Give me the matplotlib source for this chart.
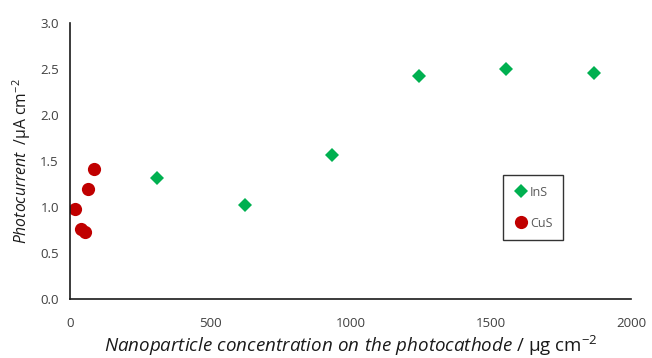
import matplotlib.pyplot as plt

# InS nanoparticle series
ins_conc = [310, 624, 934, 1244, 1554, 1868]
ins_current = [1.31, 1.02, 1.57, 2.42, 2.50, 2.46]

# CuS nanoparticle series
cus_conc = [18, 39, 53, 64, 86]
cus_current = [0.98, 0.76, 0.73, 1.20, 1.41]

xticks = [0, 500, 1000, 1500, 2000]
yticks = [0.0, 0.5, 1.0, 1.5, 2.0, 2.5, 3.0]

plt.rcParams['font.family'] = ['Open Sans', 'DejaVu Sans']
plt.rcParams['mathtext.fontset'] = 'custom'
plt.rcParams['mathtext.rm'] = 'Open Sans'
plt.rcParams['mathtext.it'] = 'Open Sans:italic'

fig = plt.figure(figsize=(6.52, 3.58), dpi=100)
ax = fig.add_axes([0.1074, 0.1648, 0.8606, 0.771])

ax.plot(ins_conc, ins_current, 'D', color='#00B050', markersize=7.5,
        markeredgewidth=0, label='InS')
ax.plot(cus_conc, cus_current, 'o', color='#C00000', markersize=9.5,
        markeredgewidth=0, label='CuS')

ax.set_xlim(0, 2000)
ax.set_ylim(0, 3)
ax.set_xticks(xticks)
ax.set_yticks(yticks)
ax.set_yticklabels(['%.1f' % v for v in yticks])
ax.tick_params(length=0, labelsize=9.5, colors='#404040', pad=8)
ax.tick_params(axis='x', pad=13)

for side in ['top', 'right']:
    ax.spines[side].set_visible(False)
for side in ['left', 'bottom']:
    ax.spines[side].set_color('#1a1a1a')
    ax.spines[side].set_linewidth(1.2)

ax.set_xlabel(r'$\mathit{Nanoparticle\ concentration\ on\ the\ photocathode}$ / μg cm$^{-2}$',
              fontsize=13.5, color='#1a1a1a', labelpad=3)
ax.set_ylabel(r'$\mathit{Photocurrent}$  /μA cm$^{-2}$',
              fontsize=11.3, color='#1a1a1a', labelpad=5)

leg = ax.legend(loc='upper left', bbox_to_anchor=(503 / 652, 1 - 175 / 358),
                bbox_transform=fig.transFigure, borderaxespad=0, fontsize=9,
                frameon=True, fancybox=False, handletextpad=0.1,
                handlelength=1.2, borderpad=0.85, labelspacing=1.45,
                labelcolor='#595959')
leg.get_frame().set_edgecolor('black')
leg.get_frame().set_linewidth(1.0)

fig.savefig('out.png', dpi=100)
